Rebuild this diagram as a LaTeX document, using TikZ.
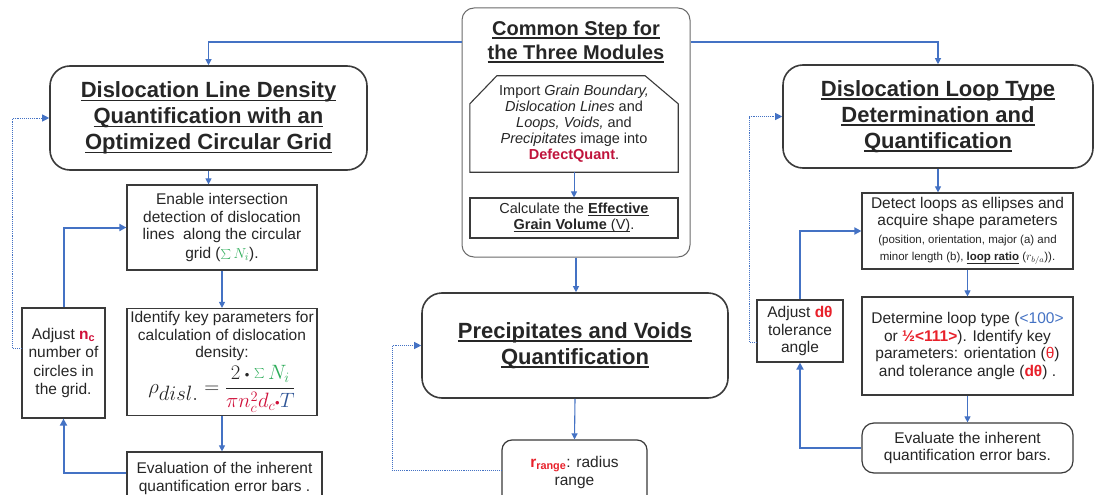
\documentclass[tikz,border=0pt]{standalone}
\usepackage{fontspec}
\setmainfont{Liberation Sans}
\usetikzlibrary{arrows.meta,calc}
\definecolor{lblue}{HTML}{4472C4}
\definecolor{bgray}{HTML}{3A3A3A}
\definecolor{cgray}{HTML}{6A6A6A}
\definecolor{txt}{HTML}{262626}
\definecolor{nred}{HTML}{D0103A}
\definecolor{dqred}{HTML}{C0143C}
\definecolor{sgreen}{HTML}{2EAD5A}
\definecolor{tblue}{HTML}{2F5597}
\definecolor{rred}{HTML}{E8202A}
\newcommand{\ttlfnt}{\fontsize{22}{26}\selectfont\bfseries}
\newcommand{\cmnfnt}{\fontsize{20}{24}\selectfont\bfseries}
\newcommand{\bdyfnt}{\fontsize{15.5}{17.5}\selectfont}
\newcommand{\impfnt}{\fontsize{14.5}{16}\selectfont}
\newcommand{\smlfnt}{\fontsize{11.5}{14}\selectfont}
\newcommand{\ulx}[3]{\leavevmode\hbox{\setbox0=\hbox{#3}\rlap{\vrule width \wd0 height \dimexpr#1-#2\relax depth #2}\box0}}
\newcommand{\tul}[1]{\ulx{1.7pt}{3.6pt}{#1}}
\newcommand{\thinul}[1]{\ulx{1pt}{2.6pt}{#1}}
\newcommand{\mybul}{\mathbin{\hbox{\fontsize{13}{13}\selectfont •}}}
\begin{document}
\begin{tikzpicture}[x=1pt,y=-1pt,
  base/.style={draw=bgray, line width=1.2pt, inner sep=2pt, align=center, text=txt},
  titlebox/.style={base, rounded corners=20pt, line width=1.6pt, font=\ttlfnt},
  stepbox/.style={base, font=\bdyfnt},
  roundstep/.style={base, font=\bdyfnt, rounded corners=12pt},
  cbox/.style={draw=cgray, line width=1pt, rounded corners=12pt},
  plaintext/.style={align=center, text=txt, inner sep=0pt},
  conn/.style={draw=lblue, line width=1.1pt, -{Triangle[length=6pt,width=6pt]}},
  fb/.style={draw=lblue, line width=2pt, -{Triangle[length=7pt,width=7pt]}},
  dotline/.style={draw=lblue, line width=0.9pt, densely dotted, -{Triangle[length=7pt,width=7pt]}}
]
\fill[white] (0,0) rectangle (1095,495);
\useasboundingbox (0,0) rectangle (1095,495);

% ---------- common step ----------
\node[cbox, minimum width=228pt, minimum height=249pt] (common) at (576,132.5) {};
\node[plaintext, font=\cmnfnt] (ctitle) at (576,42) {\tul{Common Step for}\\ \tul{the Three Modules}};
\node[plaintext, font=\impfnt, minimum width=208pt, minimum height=96pt] (import) at (574,124)
  {Import \textit{Grain Boundary,}\\ \textit{Dislocation Lines} and\\ \textit{Loops, Voids,} and\\ \textit{Precipitates} image into\\ \textbf{\textcolor{dqred}{DefectQuant}}.};
\draw[draw=bgray, line width=1.1pt]
  ($(import.north west)+(27,0)$) -- ($(import.north east)+(-33,0)$) -- ($(import.north east)+(0,28)$)
  -- (import.south east) -- (import.south west) -- ($(import.north west)+(0,28)$) -- cycle;
\node[base, font=\impfnt, line width=1.1pt, minimum width=208pt, minimum height=40pt] (calc) at (574,218)
  {Calculate the \thinul{\textbf{Effective}}\\ \thinul{\textbf{Grain Volume} (V)}.};
\draw[conn, line width=0.9pt] (import.south) -- (calc.north);

% ---------- left module ----------
\node[titlebox, minimum width=317pt, minimum height=104pt] (ltitle) at (208.5,118)
  {\tul{Dislocation Line Density}\\ \tul{Quantification with an}\\ \tul{Optimized Circular Grid}};
\node[stepbox, minimum width=190pt, minimum height=85pt] (lstep1) at (222,227.5)
  {Enable intersection\\ detection of dislocation\\ lines\ \ along the circular\\[1pt] grid (\textcolor{sgreen}{$\sum N_i$}).};
\node[stepbox, minimum width=190pt, minimum height=107pt] (lstep2) at (222,362)
  {Identify key parameters for\\ calculation of dislocation\\ density:\\[3pt]
   {\fontsize{19.5}{21}\selectfont $\rho_{\textstyle disl.} = \displaystyle\frac{2\mybul\textcolor{sgreen}{\sum N_i}}{\textcolor{nred}{\pi n_c^2 d_c\mybul}\textcolor{tblue}{T}}$}};
\node[stepbox, minimum width=195pt, minimum height=53pt] (lstep3) at (224.5,478.5)
  {Evaluation of the inherent\\ quantification error bars .};
\node[stepbox, minimum width=83pt, minimum height=110pt, font=\fontsize{15.5}{18.5}\selectfont] (ladj) at (63.5,363)
  {Adjust \textcolor{nred}{\textbf{n\textsubscript{c}}}\\ number of\\ circles in\\ the grid.};

% ---------- middle module ----------
\node[titlebox, minimum width=306pt, minimum height=105pt] (prec) at (575,345.5)
  {\tul{Precipitates and Voids}\\ \tul{Quantification}};
\node[base, rounded corners=10pt, font=\bdyfnt, minimum width=145pt, minimum height=65pt] (rrange) at (574.5,472.5)
  {\textcolor{rred}{\textbf{r\textsubscript{range}}}: radius\\ range};

% ---------- right module ----------
\node[titlebox, minimum width=310pt, minimum height=103pt] (rtitle) at (938,116.5)
  {\tul{Dislocation Loop Type}\\ \tul{Determination and}\\ \tul{Quantification}};
\node[stepbox, minimum width=211pt, minimum height=76pt] (detect) at (967.5,231)
  {Detect loops as ellipses and\\ acquire shape parameters\\
   {\smlfnt (position, orientation, major (a) and}\\
   {\smlfnt minor length (b), \thinul{\textbf{loop ratio}} ($r_{b/a}$)).}};
\node[stepbox, minimum width=211pt, minimum height=98pt] (determine) at (967.5,346)
  {Determine loop type (\textcolor{lblue}{<100>}\\ or \textcolor{rred}{\textbf{½<111>}}). Identify key\\ parameters: orientation (\textcolor{rred}{θ})\\ and tolerance angle (\textcolor{rred}{\textbf{dθ}}) .};
\node[roundstep, minimum width=211pt, minimum height=50pt] (evaluate) at (967.5,448)
  {Evaluate the inherent\\ quantification error bars.};
\node[stepbox, minimum width=86pt, minimum height=62pt] (radj) at (800,331)
  {Adjust \textcolor{rred}{\textbf{dθ}}\\ tolerance\\ angle};

% ---------- connectors ----------
\draw[conn] (ctitle.west -| common.west) -| (ltitle.north);
\draw[conn] (ctitle.east -| common.east) -| (rtitle.north);
\draw[conn] (common.south) -- (common.south |- prec.north);

\draw[conn] (ltitle.south) -- (ltitle.south |- lstep1.north);
\draw[conn] (lstep1.south) -- (lstep2.north);
\draw[conn] (lstep2.south) -- (lstep2.south |- lstep3.north);
\draw[fb] ([yshift=5.5pt]lstep3.west) -| (ladj.south);
\draw[fb] (ladj.north) |- (lstep1.west);
\draw[dotline] ([yshift=15pt]ladj.west) -- ++(-9,0) |- (ltitle.west);

\draw[conn] (prec.south) -- (rrange.north);
\draw[dotline] ([yshift=2.5pt]rrange.west) -- ++(-109,0) |- (prec.west);

\draw[conn] (rtitle.south) -- (rtitle.south |- detect.north);
\draw[conn] (detect.south) -- (determine.north);
\draw[conn] (determine.south) -- (evaluate.north);
\draw[fb] (evaluate.west) -| (radj.south);
\draw[fb] (radj.north) |- (detect.west);
\draw[dotline] ([yshift=-11pt]radj.west) -- ++(-7,0) |- (rtitle.west);
\end{tikzpicture}
\end{document}
